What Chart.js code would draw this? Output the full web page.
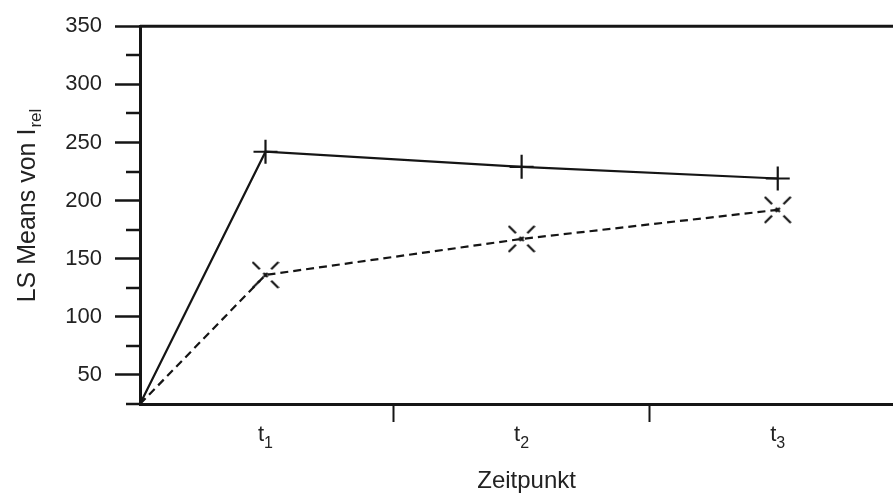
<!DOCTYPE html>
<html>
<head>
<meta charset="utf-8">
<script src="https://cdn.jsdelivr.net/npm/chart.js@4"></script>
<style>
  html, body { margin: 0; padding: 0; background: #fff; overflow: hidden; }
  #wrap { width: 893px; height: 496px; }
</style>
</head>
<body>
<div id="wrap"><canvas id="lsChart"></canvas></div>
<script>
// values
const categories = ["t1", "t2", "t3"];
const startLevel = 25; // both lines start at the axis origin
const solidSeries = [242, 229, 219];
const dashedSeries = [136, 167, 192];
const yTickLabels = [50, 100, 150, 200, 250, 300, 350];

const INK = "#151515";
const X_MIN = 0.51;
const X_MAX = 3.45;

// the dashed "x" marker, drawn once on a small canvas
function makeDashedX(size) {
  const c = document.createElement("canvas");
  c.width = size;
  c.height = size;
  const g = c.getContext("2d");
  g.strokeStyle = INK;
  g.lineWidth = 2.2;
  const parts = [[0, 0.28], [0.42, 0.58], [0.72, 1]];
  const diag = [[1, 1, size - 1, size - 1], [size - 1, 1, 1, size - 1]];
  diag.forEach(([x0, y0, x1, y1]) => {
    parts.forEach(([a, b]) => {
      g.beginPath();
      g.moveTo(x0 + (x1 - x0) * a, y0 + (y1 - y0) * a);
      g.lineTo(x0 + (x1 - x0) * b, y0 + (y1 - y0) * b);
      g.stroke();
    });
  });
  return c;
}

function toPoints(values) {
  const pts = [{ x: X_MIN, y: startLevel }];
  values.forEach((v, i) => pts.push({ x: i + 1, y: v }));
  return pts;
}

const dashedX = makeDashedX(28);
const FONT = "'Liberation Sans', Arial, sans-serif";

// extra drawing: top frame, minor ticks, subscripted labels and titles
const framePlugin = {
  id: "frame",
  afterDraw(chart) {
    const ctx = chart.ctx;
    const area = chart.chartArea;
    const xs = chart.scales.x;
    const ys = chart.scales.y;
    ctx.save();
    ctx.strokeStyle = INK;

    // top border
    ctx.lineWidth = 3;
    ctx.beginPath();
    ctx.moveTo(area.left, area.top);
    ctx.lineTo(chart.width, area.top);
    ctx.stroke();

    // minor y ticks
    ctx.lineWidth = 2.5;
    ys.ticks.forEach((t) => {
      if (yTickLabels.includes(t.value)) return;
      const py = Math.round(ys.getPixelForValue(t.value));
      ctx.beginPath();
      ctx.moveTo(area.left - 14, py);
      ctx.lineTo(area.left, py);
      ctx.stroke();
    });

    // x category labels with subscript
    ctx.fillStyle = "#222";
    ctx.textBaseline = "alphabetic";
    categories.forEach((c, i) => {
      const px = xs.getPixelForValue(i + 1);
      const base = c.charAt(0);
      const sub = c.slice(1);
      ctx.font = "22px " + FONT;
      const wb = ctx.measureText(base).width;
      ctx.font = "16px " + FONT;
      const ws = ctx.measureText(sub).width;
      const x0 = px - (wb + ws) / 2;
      ctx.textAlign = "left";
      ctx.font = "22px " + FONT;
      ctx.fillText(base, x0, 441);
      ctx.font = "16px " + FONT;
      ctx.fillText(sub, x0 + wb, 448);
    });

    // x title
    ctx.font = "24px " + FONT;
    ctx.textAlign = "center";
    ctx.fillText("Zeitpunkt", xs.getPixelForValue(2) + 5, 488);

    // y title, rotated, with subscript
    ctx.translate(35, 206);
    ctx.rotate(-Math.PI / 2);
    const main = "LS Means von I";
    const subTxt = "rel";
    ctx.font = "25px " + FONT;
    const wm = ctx.measureText(main).width;
    ctx.font = "17px " + FONT;
    const wr = ctx.measureText(subTxt).width;
    const start = -(wm + wr) / 2;
    ctx.textAlign = "left";
    ctx.font = "25px " + FONT;
    ctx.fillText(main, start, 0);
    ctx.font = "17px " + FONT;
    ctx.fillText(subTxt, start + wm + 1, 6);
    ctx.restore();
  }
};

const ctx = document.getElementById("lsChart");
new Chart(ctx, {
  type: "line",
  data: {
    datasets: [
      {
        label: "solid",
        data: toPoints(solidSeries),
        borderColor: INK,
        borderWidth: 2.2,
        pointStyle: "cross",
        pointRadius: (c) => (c.dataIndex === 0 ? 0 : 12),
        pointBorderWidth: 2.2,
        pointBorderColor: INK,
        tension: 0,
      },
      {
        label: "dashed",
        data: toPoints(dashedSeries),
        borderColor: INK,
        borderWidth: 2.2,
        borderDash: [8, 5],
        pointStyle: dashedX,
        pointRadius: (c) => (c.dataIndex === 0 ? 0 : 14),
        tension: 0,
      },
    ],
  },
  options: {
    responsive: true,
    maintainAspectRatio: false,
    animation: false,
    layout: { autoPadding: false, padding: { top: 22, right: 0, bottom: 0, left: 0 } },
    plugins: {
      legend: { display: false },
      tooltip: { enabled: false },
    },
    scales: {
      x: {
        type: "linear",
        min: X_MIN,
        max: X_MAX,
        afterBuildTicks: (scale) => {
          scale.ticks = [{ value: 1.5 }, { value: 2.5 }];
        },
        afterFit: (scale) => {
          scale.height = 92;
          scale.paddingLeft = 0;
          scale.paddingRight = 0;
        },
        ticks: { callback: () => "", autoSkip: false, maxRotation: 0 },
        grid: {
          drawOnChartArea: false,
          drawTicks: true,
          tickLength: 18,
          tickWidth: 2,
          tickColor: INK,
        },
        border: { display: true, color: INK, width: 3 },
      },
      y: {
        min: startLevel,
        max: 350,
        afterFit: (scale) => {
          scale.width = 140;
        },
        ticks: {
          stepSize: 25,
          autoSkip: false,
          padding: 13,
          color: "#222",
          font: { family: FONT, size: 22 },
          callback: (v) => (yTickLabels.includes(v) ? v : ""),
        },
        grid: {
          drawOnChartArea: false,
          drawTicks: true,
          tickLength: 25,
          tickWidth: 2.5,
          tickColor: (c) => (c.tick && yTickLabels.includes(c.tick.value) ? INK : "rgba(0,0,0,0)"),
        },
        border: { display: true, color: INK, width: 3 },
      },
    },
  },
  plugins: [framePlugin],
});
</script>
</body>
</html>
